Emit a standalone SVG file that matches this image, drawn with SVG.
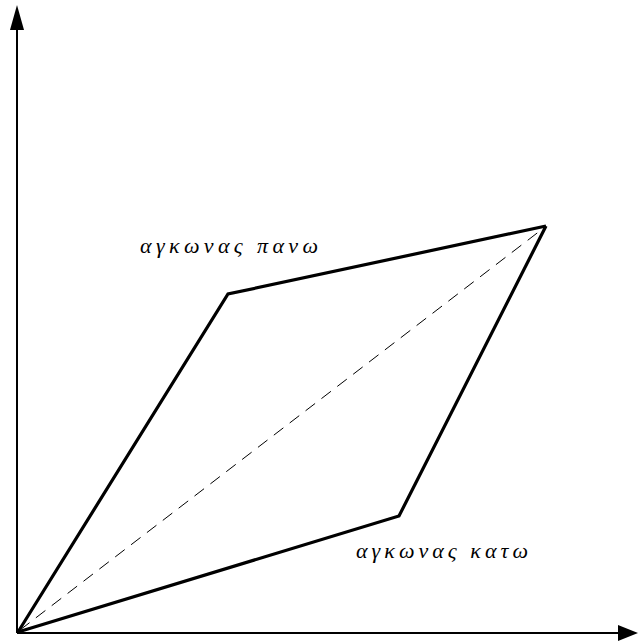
<svg xmlns="http://www.w3.org/2000/svg" width="638" height="644" viewBox="0 0 638 644">
<style>
.axis{stroke:#000;stroke-width:2;fill:none}
.edge{stroke:#000;stroke-width:3.2;fill:none;stroke-linejoin:miter}
.dash{stroke:#000;stroke-width:1;fill:none;stroke-dasharray:12,8}
.lbl{font-family:"Liberation Serif","DejaVu Serif",serif;font-style:italic;font-size:22px;fill:#000}
</style>
<rect width="638" height="644" fill="#fff"/>
<g id="connectors">
<line class="axis" x1="17" y1="633" x2="17" y2="25"/>
<polygon points="17,5 10,30 24,30" fill="#000"/>
<line class="axis" x1="17" y1="633" x2="620" y2="633"/>
<polygon points="638,633 618,625 618,641" fill="#000"/>
<line class="dash" x1="20" y1="630" x2="545" y2="227"/>
<polyline class="edge" points="18,632 228,294 546,226"/>
<polyline class="edge" points="18,632 399,516 546,226"/>
</g>
<g id="label-top">
<text class="lbl" x="140" y="253" textLength="178" lengthAdjust="spacing">αγκωνας πανω</text>
</g>
<g id="label-bottom">
<text class="lbl" x="356" y="558" textLength="172" lengthAdjust="spacing">αγκωνας κατω</text>
</g>
</svg>
